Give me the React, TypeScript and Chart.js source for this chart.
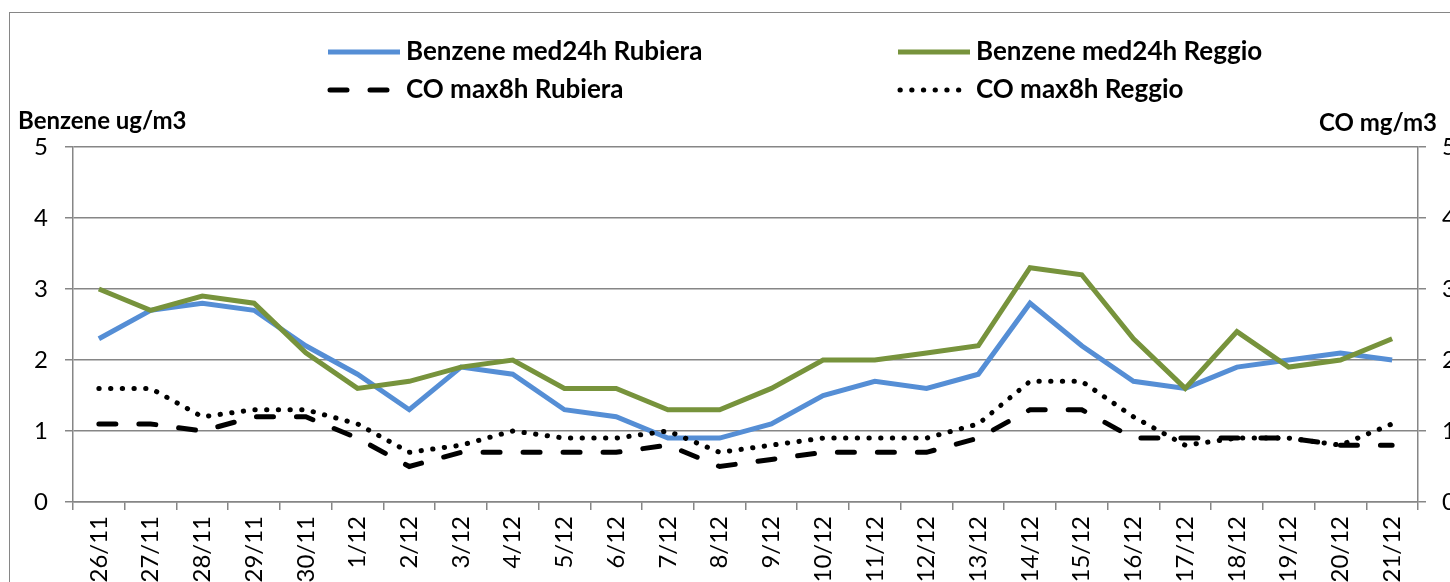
import React, { useEffect, useRef } from "react";
import { Chart, registerables } from "chart.js";

Chart.register(...registerables);

const categories = [
  "26/11", "27/11", "28/11", "29/11", "30/11", "1/12", "2/12", "3/12", "4/12",
  "5/12", "6/12", "7/12", "8/12", "9/12", "10/12", "11/12", "12/12", "13/12",
  "14/12", "15/12", "16/12", "17/12", "18/12", "19/12", "20/12", "21/12",
];
const benzeneRubiera = [2.3, 2.7, 2.8, 2.7, 2.2, 1.8, 1.3, 1.9, 1.8, 1.3, 1.2, 0.9, 0.9, 1.1, 1.5, 1.7, 1.6, 1.8, 2.8, 2.2, 1.7, 1.6, 1.9, 2.0, 2.1, 2.0];
const benzeneReggio = [3.0, 2.7, 2.9, 2.8, 2.1, 1.6, 1.7, 1.9, 2.0, 1.6, 1.6, 1.3, 1.3, 1.6, 2.0, 2.0, 2.1, 2.2, 3.3, 3.2, 2.3, 1.6, 2.4, 1.9, 2.0, 2.3];
const coRubiera = [1.1, 1.1, 1.0, 1.2, 1.2, 0.9, 0.5, 0.7, 0.7, 0.7, 0.7, 0.8, 0.5, 0.6, 0.7, 0.7, 0.7, 0.9, 1.3, 1.3, 0.9, 0.9, 0.9, 0.9, 0.8, 0.8];
const coReggio = [1.6, 1.6, 1.2, 1.3, 1.3, 1.1, 0.7, 0.8, 1.0, 0.9, 0.9, 1.0, 0.7, 0.8, 0.9, 0.9, 0.9, 1.1, 1.7, 1.7, 1.2, 0.8, 0.9, 0.9, 0.8, 1.1];
const seriesLabels = ["Benzene med24h Rubiera", "Benzene med24h Reggio", "CO max8h Rubiera", "CO max8h Reggio"];
const leftTitle = "Benzene ug/m3";
const rightTitle = "CO mg/m3";
const yMin = 0;
const yMax = 5;
const yStep = 1;

const CW = 1500;
const CH = 640;
const OX = 10; // page offset of canvas content
const OY = 13;
const GRID = "#868686";
const FONT = "Lato";

const overlayPlugin = {
  id: "excelOverlay",
  afterDraw(chart: any) {
    const ctx = chart.ctx;
    ctx.save();
    const colX = [328 - OX, 898 - OX];
    const rowY = [52 - OY, 90 - OY];
    chart.data.datasets.forEach((ds: any, i: number) => {
      const x0 = colX[i % 2];
      const y = rowY[Math.floor(i / 2)];
      ctx.save();
      ctx.strokeStyle = ds.borderColor;
      ctx.lineWidth = ds.borderWidth;
      ctx.lineCap = ds.borderCapStyle || "butt";
      ctx.setLineDash(ds.borderDash || []);
      ctx.beginPath();
      ctx.moveTo(x0 + (ds.borderCapStyle === "round" ? 2 : 0), y);
      ctx.lineTo(x0 + 72, y);
      ctx.stroke();
      ctx.restore();
      ctx.fillStyle = "#000";
      ctx.font = `bold 26px ${FONT}`;
      ctx.textBaseline = "middle";
      ctx.textAlign = "left";
      ctx.fillText(ds.label, x0 + 78, y);
    });
    ctx.font = `bold 24px ${FONT}`;
    ctx.textBaseline = "alphabetic";
    ctx.textAlign = "left";
    ctx.fillText(leftTitle, 18 - OX, 129 - OY);
    ctx.textAlign = "right";
    ctx.fillText(rightTitle, 1437 - OX, 131 - OY);
    ctx.restore();
  },
};

export default function App() {
  const ref = useRef<HTMLCanvasElement | null>(null);
  useEffect(() => {
    if (!ref.current) return;
    const tickFont = { family: FONT, size: 24 };
    const chart = new Chart(ref.current, {
      type: "line",
      data: {
        labels: categories,
        datasets: [
          { label: seriesLabels[0], data: benzeneRubiera, borderColor: "#558ED5", backgroundColor: "#558ED5", borderWidth: 5, pointRadius: 0, tension: 0, yAxisID: "y", order: 4 },
          { label: seriesLabels[1], data: benzeneReggio, borderColor: "#77933C", backgroundColor: "#77933C", borderWidth: 5, pointRadius: 0, tension: 0, yAxisID: "y", order: 3 },
          { label: seriesLabels[2], data: coRubiera, borderColor: "#000000", backgroundColor: "#000000", borderWidth: 5, borderDash: [17, 23], borderCapStyle: "round", pointRadius: 0, tension: 0, yAxisID: "y1", order: 2 },
          { label: seriesLabels[3], data: coReggio, borderColor: "#000000", backgroundColor: "#000000", borderWidth: 5, borderDash: [0.3, 11.4], borderCapStyle: "round", pointRadius: 0, tension: 0, yAxisID: "y1", order: 1 },
        ],
      } as any,
      options: {
        responsive: false,
        animation: false,
        devicePixelRatio: 1,
        layout: { padding: { top: 147 - OY, left: 0, right: 0, bottom: 0 } },
        plugins: { legend: { display: false }, tooltip: { enabled: false }, title: { display: false } },
        scales: {
          x: {
            type: "category",
            offset: true,
            grid: { offset: true, drawOnChartArea: false, drawTicks: true, tickLength: 8, color: GRID, lineWidth: 1.5 },
            border: { display: true, color: GRID, width: 1.5 },
            ticks: { maxRotation: 90, minRotation: 90, autoSkip: false, padding: 6, color: "#000", font: tickFont },
            afterFit: (s: any) => { s.height = CH - (502 - OY); },
          },
          y: {
            position: "left",
            min: yMin,
            max: yMax,
            ticks: { stepSize: yStep, padding: 17, color: "#000", font: tickFont },
            grid: { color: GRID, lineWidth: 1.5, tickLength: 8 },
            border: { display: true, color: GRID, width: 1.5 },
            afterFit: (s: any) => { s.width = 73 - OX; },
          },
          y1: {
            position: "right",
            min: yMin,
            max: yMax,
            ticks: { stepSize: yStep, padding: 16, color: "#000", font: tickFont },
            grid: { drawOnChartArea: false, color: GRID, lineWidth: 1.5, tickLength: 8 },
            border: { display: true, color: GRID, width: 1.5 },
            afterFit: (s: any) => { s.width = CW - (1418 - OX); },
          },
        },
      } as any,
      plugins: [overlayPlugin],
    });
    return () => chart.destroy();
  }, []);

  return (
    <div style={{ position: "fixed", left: 0, top: 0, width: 1450, height: 582, overflow: "hidden", background: "#fff" }}>
      <div style={{ position: "absolute", left: OX - 1, top: OY - 1, width: CW, height: CH, border: `1px solid ${GRID}` }}>
        <canvas ref={ref} width={CW} height={CH} style={{ display: "block", width: CW, height: CH }} />
      </div>
    </div>
  );
}
